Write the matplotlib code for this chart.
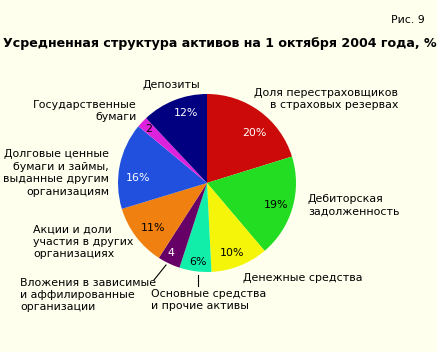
import matplotlib
matplotlib.use("Agg")
import matplotlib.pyplot as plt
from matplotlib.lines import Line2D

W, H = 437, 352
BG = "#FFFFEE"

categories = [
    "Доля перестраховщиков\nв страховых резервах",
    "Дебиторская\nзадолженность",
    "Денежные средства",
    "Основные средства\nи прочие активы",
    "Вложения в зависимые\nи аффилированные\nорганизации",
    "Акции и доли\nучастия в других\nорганизациях",
    "Долговые ценные\nбумаги и займы,\nвыданные другим\nорганизациям",
    "Государственные\nбумаги",
    "Депозиты",
]
values = [20.2, 18.6, 10.4, 5.8, 4.1, 11.2, 15.7, 2.0, 12.0]
value_labels = ["20%", "19%", "10%", "6%", "4", "11%", "16%", "2", "12%"]
colors = ["#CC0A0A", "#22DD22", "#F5F50A", "#11EEAA", "#660066",
          "#F08010", "#2050DD", "#DD22DD", "#000080"]
label_colors = ["white", "black", "black", "black", "white",
                "black", "white", "black", "white"]

# layout (pixels from top-left)
cx, cy, r = 207, 183, 89
pct_pos = [(254, 133), (276, 205), (232, 253), (198, 262), (171, 253),
           (153, 228), (138, 178), (149, 129), (186, 113)]
cat_pos = [(398, 99, "right"), (308, 205, "left"), (243, 278, "left"),
           (151, 300, "left"), (20, 295, "left"), (33, 242, "left"),
           (109, 173, "right"), (137, 111, "right"), (171, 85, "center")]

def fx(x):
    return x / W

def fy(y):
    return 1 - y / H

fig = plt.figure(figsize=(W / 100, H / 100), dpi=100, facecolor=BG)
ax = fig.add_axes([fx(cx - r), fy(cy + r), 2 * r / W, 2 * r / H])
ax.set_facecolor(BG)
ax.pie(values, colors=colors, startangle=90, counterclock=False,
       radius=1.0, wedgeprops=dict(linewidth=0))
ax.set_xlim(-1, 1)
ax.set_ylim(-1, 1)
ax.set_aspect("equal")
ax.axis("off")

fs = 7.9
for (x, y), t, c in zip(pct_pos, value_labels, label_colors):
    fig.text(fx(x), fy(y), t, color=c, fontsize=fs, ha="center", va="center")

for (x, y, ha), t in zip(cat_pos, categories):
    fig.text(fx(x), fy(y), t, color="black", fontsize=fs, ha=ha, va="center",
             linespacing=1.3, multialignment=ha if ha != "center" else "center")

# leader lines
fig.add_artist(Line2D([fx(166), fx(154)], [fy(265), fy(280)], color="black", lw=0.8))
fig.add_artist(Line2D([fx(198), fx(198)], [fy(275), fy(286)], color="black", lw=0.8))

fig.text(fx(220), fy(43), "Усредненная структура активов на 1 октября 2004 года, %",
         fontsize=9.1, fontweight="bold", ha="center", va="center")
fig.text(fx(425), fy(20), "Рис. 9", fontsize=fs, ha="right", va="center")

fig.savefig("out.png", dpi=100, facecolor=BG)
